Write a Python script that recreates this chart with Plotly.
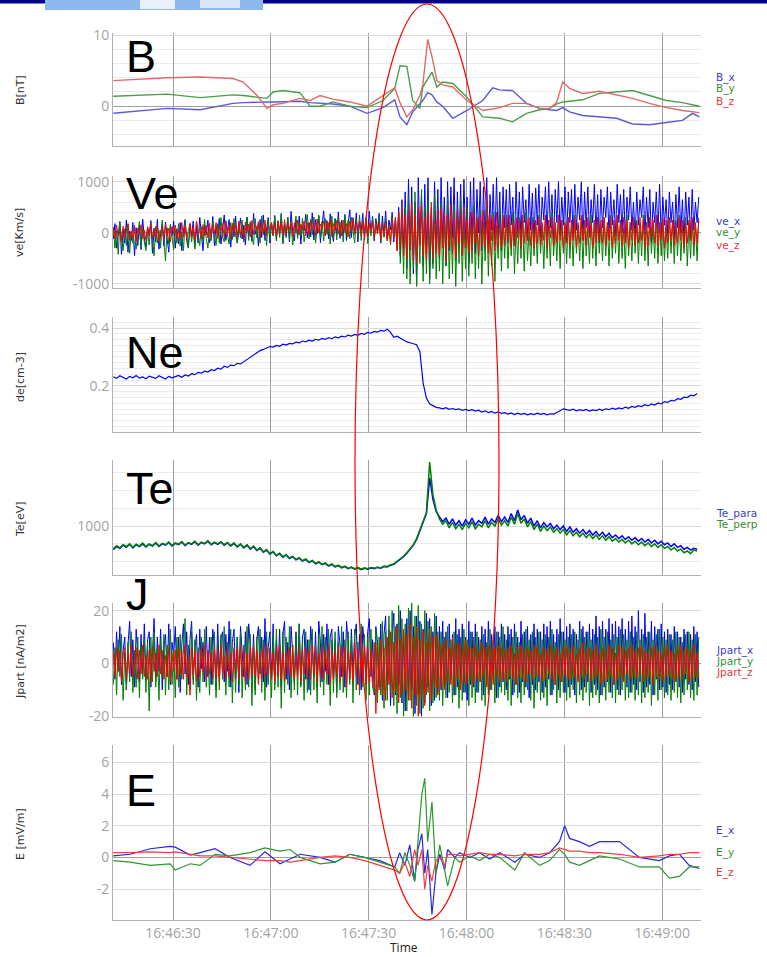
import pandas as pd
import plotly.graph_objects as go
from plotly.subplots import make_subplots

# ---------------- data ----------------
BASE = pd.Timestamp("2015-10-16 16:46:11.7")
X_START = "2015-10-16 16:46:11.6"
X_END = "2015-10-16 16:49:11.9"

# y tick labels (hyphen minus as in the picture)
b_ticks = [0, 10]
ve_ticks = [-1000, 0, 1000]
de_ticks = [0.2, 0.4]
te_ticks = [1000]
j_ticks = [-20, 0, 20]
e_ticks = [-2, 0, 2, 4, 6]

# Magnetic field B [nT], irregular sample seconds after BASE
b_sec = [0, 16.5, 26.6, 36.7, 39.8, 44.1, 47.1, 49.0, 52.0, 57.2,
         60.3, 63.4, 67.3, 72.5, 77.8, 82.7, 86.3, 87.9, 90.0, 91.8,
         94.0, 94.9, 96.4, 97.7, 99.2, 101.0, 104.1, 108.4, 113.3, 116.3,
         118.5, 122.4, 126.7, 130.7, 133.8, 135.9, 137.8, 139.9, 143.9, 149.1,
         154.3, 159.2, 164.4, 169.6, 174.5, 177.6, 179.7]
b_x = [-1.0, -0.3, -0.5, 0.4, 0.5, 0.6, 0.6, 0.6, 0.6, 0.7,
       0.5, 0.4, 0.3, 0.0, -1.0, -0.2, 0.9, -1.5, -2.6, -0.8,
       0.4, 0.8, 1.9, 1.6, 0.6, 0.0, -1.7, -0.6, 0.8, 2.6,
       2.3, 2.2, 0.4, -0.3, -0.5, -0.6, -0.2, -0.8, -1.3, -1.5,
       -1.7, -2.5, -2.6, -2.3, -2.0, -1.0, -1.5]
b_y = [1.4, 1.7, 1.2, 1.6, 1.5, 1.3, 1.1, 2.0, 2.2, 1.9,
       0.0, 0.0, 0.6, 0.0, -0.2, 0.8, 2.5, 5.7, 5.6, 0.8,
       -0.3, 2.7, 3.8, 4.8, 2.7, 3.4, 3.2, 1.3, -1.5, -1.6,
       -1.7, -2.2, -1.0, -0.5, -0.3, 0.3, 0.6, 0.7, 0.9, 1.8,
       2.0, 2.2, 1.5, 0.8, 0.5, 0.2, 0.0]
b_z = [3.6, 4.0, 4.1, 3.9, 3.4, 1.5, -0.3, 0.2, 0.4, 1.1,
       0.8, 1.5, 1.0, 0.6, 0.0, 1.5, 2.6, 0.5, -1.5, -0.5,
       1.5, 3.0, 9.4, 7.0, 3.6, 3.0, 2.7, 0.8, -0.6, -0.4,
       -0.2, 0.4, 0.4, -0.3, -0.3, 0.5, 3.4, 2.5, 1.8, 2.1,
       1.6, 1.1, 0.4, -0.2, -0.6, -0.8, -0.9]

# half-second samples (velocity, current) and 1-second samples (density, temperature)
h_sec = [i / 2 for i in range(360)]
n_sec = list(range(180))

ve_x = [
    -120, 180, -300, -50, 220, -420, 60, -200, 250, -380, 30, -150, 200, -450, 100, -250, 150, -330, 270, -100,
    -280, 120, -60, 240, -400, 90, -180, 260, -320, -20, 180, -260, 210, -120, -380, 140, -60, 230, -300, 80,
    -220, 200, -350, 40, 260, -150, -300, 180, -60, 230, -270, 120, -200, 300, -110, -350, 160, -40, 250, -190,
    -100, 320, -250, 150, -60, 280, -220, 90, 350, -150, 20, 260, -280, 140, -80, 330, -200, 60, 290, -120,
    150, -240, 310, -60, 200, -170, 380, -30, 120, -260, 260, -90, 350, -150, 70, 300, -200, 180, -50, 340,
    -130, 230, -40, 380, -210, 160, -90, 300, -180, 420, 20, -160, 250, -70, 330, -220, 140, 40, 360, -100,
    200, -80, 390, -140, 260, -20, 330, -190, 160, 430, -60, 240, -120, 370, 30, -170, 280, -40, 410, -110,
    250, -60, 360, -150, 180, 450, -90, 300, -20, 390, -180, 220, 40, 380, -130, 260, -70, 420, -10, 320,
    -160, 280, 40, 380, -200, 330, -50, 430, -120, 250, 60, 400, -180, 300, -250, 500, -450, 650, -300, 800,
    -700, 1050, -350, 900, -800, 600, -1000, 1080, -200, 750, -650, 950, -400, 1080, -900, 500, -600, 1000, -300, 850,
    -500, 1080, -150, 700, -650, 1000, -350, 900, -100, 1080, -550, 800, -250, 950, -450, 1050, -150, 700, -600, 1000,
    -200, 1080, -400, 850, 0, 1000, -350, 900, -150, 1080, -300, 750, 50, 950, -250, 1080, -100, 800, -350, 900,
    100, 850, -200, 950, 150, 700, -250, 1000, 0, 800, -150, 900, 200, 650, -100, 950, 50, 780, -200, 880,
    150, 950, -100, 700, 250, 900, -50, 1000, 100, 750, -200, 850, 200, 1000, -50, 700, 150, 900, -150, 800,
    200, 850, -100, 950, 50, 700, 250, 1000, -150, 800, 100, 900, -50, 650, 200, 950, 0, 750, -200, 850,
    100, 700, 300, 900, -100, 800, 150, 650, -50, 950, 200, 750, 0, 850, -150, 700, 250, 900, 50, 600,
    -100, 800, 150, 650, 300, 900, -50, 700, 100, 850, -200, 600, 200, 800, 0, 950, -100, 700, 150, 650,
    -50, 800, 200, 600, -150, 750, 100, 900, 0, 650, -200, 800, 150, 700, -100, 850, 50, 600, 200, 700]
ve_y = [
    120, -300, 40, -420, 200, -150, -350, 80, -250, 180, -400, 30, -200, 150, -320, -60, 220, -280, 100, -180,
    -350, 60, -240, 200, -120, -450, 130, -200, 50, -300, 250, -150, -550, 100, -220, 170, -80, -330, 60, -200,
    180, -260, 20, -350, 200, -100, -280, 150, -180, 80, -320, 230, -60, -250, 120, -180, 260, -120, -300, 90,
    -150, 220, -60, -250, 180, -200, 300, -80, -180, 240, -30, -220, 200, -130, 280, -50, -200, 160, -100, 250,
    -180, 100, 300, -150, 220, -60, -230, 280, -100, 180, -200, 330, -40, 150, -250, 260, -120, 200, -60, 310,
    -160, 240, -90, 350, -200, 120, -30, 300, -140, 220, -240, 80, 330, -110, 200, -60, 280, -180, 150, 360,
    -120, 260, -40, 310, -200, 150, 350, -90, 220, -160, 280, -30, 200, -220, 330, -80, 240, -140, 300, -20,
    190, -180, 340, -60, 250, -120, 300, 30, -200, 270, -90, 350, -150, 220, -40, 310, -210, 180, -60, 290,
    -130, 240, -20, 320, -180, 200, -90, 280, -160, 150, -240, 300, -100, 250, -350, 400, -600, 300, -800, 500,
    -900, 700, -1000, 400, -700, 800, -1050, 300, -600, 850, -950, 500, -800, 650, -1000, 300, -700, 750, -900, 450,
    -750, 600, -1000, 350, -650, 700, -900, 250, -800, 550, -1050, 400, -600, 650, -950, 300, -700, 500, -850, 200,
    -600, 550, -900, 300, -700, 450, -1000, 200, -550, 600, -850, 250, -650, 400, -950, 150, -500, 450, -750, 300,
    -500, 350, -700, 200, -450, 400, -800, 150, -600, 300, -500, 250, -750, 400, -550, 100, -650, 300, -450, 200,
    -600, 350, -400, 150, -700, 300, -500, 200, -650, 400, -450, 100, -550, 350, -700, 250, -400, 150, -600, 300,
    -500, 200, -650, 350, -400, 150, -550, 300, -700, 250, -450, 100, -600, 350, -500, 200, -650, 300, -400, 150,
    -550, 300, -450, 200, -650, 350, -500, 150, -400, 300, -600, 250, -500, 100, -700, 350, -450, 200, -550, 300,
    -400, 250, -600, 150, -450, 350, -550, 200, -650, 300, -400, 150, -500, 350, -600, 200, -450, 250, -550, 100,
    -500, 300, -400, 200, -600, 250, -450, 350, -550, 150, -400, 300, -650, 200, -500, 250, -450, 150, -550, 300]
ve_z = [
    80, -120, 150, -60, 20, -180, 130, -90, 60, 170, -140, 40, -100, 120, -170, 90, -30, 160, -110, 50,
    -150, 110, -40, 180, -120, 70, -80, 140, -160, 30, 100, -130, 170, -60, 90, -180, 120, -20, 150, -100,
    60, -140, 200, -70, 130, -110, 40, 180, -90, 110, -150, 220, -30, 90, -120, 160, -60, 140, -100, 190,
    -80, 150, -20, 200, -110, 120, 30, 180, -90, 220, -40, 140, -120, 190, 10, 160, -70, 230, -50, 130,
    -100, 210, 20, 170, -80, 240, -30, 150, 60, 220, -90, 180, -10, 250, -60, 130, 80, 200, -40, 170,
    -70, 230, 30, 180, -50, 260, -20, 160, 70, 220, -80, 190, 10, 250, -40, 170, 60, 230, -60, 200,
    -30, 240, 50, 190, -60, 270, 0, 170, 80, 230, -50, 200, 30, 260, -70, 180, 40, 240, -20, 210,
    -60, 250, 20, 180, -80, 230, 40, 270, -30, 190, 60, 240, -50, 210, 10, 260, -70, 200, 30, 230,
    -90, 180, -20, 220, -130, 160, -60, 200, -150, 120, -200, 250, -100, 300, -350, 400, -250, 500, -450, 350,
    -500, 450, -300, 600, -550, 350, -600, 500, -250, 550, -450, 300, -550, 400, -350, 600, -500, 250, -400, 450,
    -450, 500, -300, 400, -550, 350, -250, 550, -400, 300, -500, 450, -200, 350, -450, 500, -300, 250, -400, 400,
    -350, 400, -200, 300, -450, 350, -250, 450, -300, 250, -400, 350, -150, 300, -350, 400, -250, 200, -300, 350,
    -250, 300, -150, 350, -300, 200, -250, 300, -100, 250, -300, 350, -200, 250, -150, 300, -250, 200, -300, 250,
    -200, 300, -250, 200, -150, 350, -300, 250, -100, 300, -250, 200, -200, 350, -150, 250, -300, 200, -200, 300,
    -250, 250, -150, 300, -300, 200, -200, 350, -150, 250, -250, 300, -100, 200, -300, 250, -200, 300, -150, 250,
    -200, 300, -250, 200, -150, 300, -300, 250, -200, 350, -150, 200, -250, 300, -200, 250, -300, 200, -150, 300,
    -250, 200, -200, 300, -150, 250, -300, 200, -250, 300, -100, 250, -200, 350, -250, 200, -150, 300, -300, 250,
    -200, 300, -150, 250, -250, 200, -200, 300, -150, 250, -300, 200, -200, 250, -150, 300, -250, 200, -200, 250]

de = [0.232, 0.226, 0.235, 0.229, 0.224, 0.233, 0.228, 0.236, 0.227, 0.231, 0.225, 0.234, 0.229, 0.226, 0.235, 0.230, 0.224, 0.233, 0.228, 0.232,
      0.236, 0.230, 0.238, 0.234, 0.242, 0.239, 0.247, 0.244, 0.251, 0.248, 0.256, 0.253, 0.261, 0.258, 0.268, 0.264, 0.272, 0.270, 0.278, 0.276,
      0.284, 0.290, 0.298, 0.305, 0.316, 0.322, 0.326, 0.331, 0.336, 0.334, 0.340, 0.337, 0.344, 0.341, 0.347, 0.345, 0.351, 0.349, 0.355, 0.352,
      0.358, 0.355, 0.361, 0.358, 0.364, 0.361, 0.367, 0.363, 0.369, 0.366, 0.372, 0.369, 0.375, 0.372, 0.378, 0.375, 0.381, 0.378, 0.385, 0.382,
      0.388, 0.386, 0.392, 0.389, 0.396, 0.385, 0.368, 0.372, 0.366, 0.358, 0.352, 0.349, 0.346, 0.342, 0.318, 0.210, 0.158, 0.138, 0.132, 0.126,
      0.124, 0.121, 0.125, 0.119, 0.122, 0.118, 0.121, 0.116, 0.119, 0.115, 0.118, 0.113, 0.116, 0.110, 0.114, 0.108, 0.112, 0.106, 0.110, 0.105,
      0.108, 0.103, 0.107, 0.101, 0.106, 0.102, 0.105, 0.100, 0.104, 0.101, 0.106, 0.102, 0.105, 0.100, 0.104, 0.103, 0.108, 0.114, 0.121, 0.118,
      0.116, 0.120, 0.114, 0.118, 0.115, 0.119, 0.113, 0.117, 0.115, 0.120, 0.116, 0.121, 0.118, 0.123, 0.119, 0.124, 0.121, 0.127, 0.123, 0.129,
      0.126, 0.132, 0.129, 0.135, 0.131, 0.138, 0.134, 0.141, 0.138, 0.146, 0.143, 0.150, 0.148, 0.156, 0.154, 0.161, 0.160, 0.168, 0.166, 0.174]

te_para = [735, 770, 750, 785, 760, 795, 755, 790, 770, 800, 765, 795, 775, 810, 770, 800, 785, 815, 775, 805,
           790, 820, 780, 810, 795, 825, 785, 815, 800, 830, 790, 815, 795, 820, 785, 810, 775, 805, 765, 795,
           755, 785, 740, 770, 725, 750, 705, 730, 685, 710, 665, 690, 650, 675, 635, 655, 620, 640, 605, 625,
           590, 610, 575, 595, 565, 580, 550, 570, 540, 555, 530, 545, 520, 535, 515, 530, 510, 525, 515, 530,
           520, 535, 525, 545, 540, 560, 570, 595, 625, 655, 695, 735, 785, 850, 940, 1040, 1140, 1540, 1300, 1160,
           1100, 1050, 1090, 1020, 1080, 1010, 1060, 1000, 1070, 1020, 1090, 1010, 1060, 1030, 1100, 1020, 1080, 1040, 1120, 1050,
           1100, 1040, 1140, 1060, 1180, 1070, 1120, 1030, 1090, 1000, 1060, 980, 1040, 990, 1030, 970, 1010, 960, 1000, 940,
           990, 930, 970, 920, 960, 910, 950, 900, 940, 890, 930, 880, 920, 870, 900, 860, 890, 850, 880, 840,
           870, 830, 860, 820, 850, 810, 840, 800, 830, 790, 810, 770, 800, 760, 780, 740, 760, 730, 750, 740]
te_perp = [745, 780, 755, 790, 770, 800, 760, 795, 775, 810, 770, 800, 780, 815, 775, 805, 790, 820, 780, 810,
           795, 825, 785, 815, 800, 830, 790, 820, 805, 835, 795, 820, 800, 825, 790, 815, 780, 810, 770, 800,
           760, 790, 745, 775, 730, 755, 710, 735, 690, 715, 670, 695, 655, 680, 640, 660, 625, 645, 610, 630,
           595, 615, 580, 600, 570, 585, 555, 575, 545, 560, 535, 550, 525, 540, 520, 535, 515, 530, 520, 535,
           525, 540, 530, 550, 545, 565, 575, 600, 630, 660, 700, 740, 790, 860, 950, 1050, 1150, 1720, 1350, 1180,
           1080, 1020, 1060, 980, 1040, 970, 1020, 960, 1030, 980, 1050, 970, 1020, 990, 1060, 980, 1040, 1000, 1080, 1010,
           1060, 1000, 1100, 1020, 1140, 1030, 1080, 990, 1050, 960, 1020, 940, 1000, 950, 990, 930, 970, 920, 960, 900,
           950, 890, 930, 880, 920, 870, 910, 860, 900, 850, 890, 840, 880, 830, 860, 820, 850, 810, 840, 800,
           830, 790, 820, 780, 810, 770, 800, 760, 790, 750, 770, 730, 760, 720, 740, 700, 720, 690, 730, 720]

jpart_x = [
    8, -6, 12, -3, 14, -8, 5, 10, -10, 7, 16, -5, 9, -9, 13, 2, -7, 11, -4, 15,
    -6, 9, 12, -9, 4, 17, -7, 10, -3, 13, -10, 6, 11, -5, 15, -8, 8, 3, 14, -6,
    10, -11, 7, 15, -4, 12, -8, 9, 16, -6, 5, 11, -9, 13, -2, 8, -7, 14, -5, 10,
    -8, 13, 6, -10, 15, -4, 9, 12, -7, 11, -3, 16, -9, 8, 13, -6, 10, -11, 14, 5,
    -5, 12, -8, 15, 7, -6, 11, -10, 9, 14, -4, 10, -7, 17, -9, 6, 12, -5, 15, -8,
    9, -3, 13, -9, 11, 16, -6, 8, -10, 14, 5, -7, 12, -4, 15, -8, 10, 13, -6, 9,
    -10, 14, 6, -5, 12, -9, 16, 8, -7, 11, -3, 15, -8, 10, 13, -6, 9, -11, 14, 7,
    -5, 12, -9, 16, 8, -6, 13, -4, 10, 15, -8, 11, -10, 14, 6, -7, 12, 17, -5, 9,
    -12, 14, 8, -9, 15, -14, 11, 18, -10, 13, -16, 10, 19, -12, 15, -8, 20, -15, 12, -18,
    17, -13, 20, -10, 14, -19, 18, -12, 16, -20, 13, -15, 19, -9, 17, -16, 12, -14, 18, -11,
    14, -10, 16, -8, 12, -13, 15, -6, 11, -12, 17, -9, 13, -7, 15, -11, 10, -14, 16, -8,
    12, -9, 15, -11, 10, -7, 14, -12, 13, -8, 16, -10, 11, -6, 14, -13, 12, -9, 15, -7,
    11, -10, 14, -6, 13, -12, 15, -8, 10, -11, 16, -7, 12, -9, 14, -13, 11, -8, 15, -10,
    13, -7, 12, -11, 15, -9, 14, -6, 16, -12, 11, -8, 13, -10, 17, -7, 12, -11, 14, -9,
    15, -8, 13, -12, 11, -6, 16, -10, 14, -9, 12, -7, 15, -11, 13, -8, 18, -10, 14, -12,
    16, -9, 13, -7, 17, -11, 15, -8, 16, -10, 14, -12, 17, -6, 13, -9, 16, -11, 18, -8,
    14, -10, 20, -7, 13, -11, 19, -9, 12, -8, 16, -12, 14, -6, 13, -10, 15, -9, 12, -11,
    13, -8, 11, -10, 14, -7, 12, -9, 10, -11, 13, -6, 12, -8, 11, -10, 14, -7, 12, -9]
jpart_y = [
    -8, 6, -12, 9, -5, 11, -14, 4, -10, 8, -7, 12, -11, 5, -9, 10, -13, 7, -6, 9,
    -11, 8, -18, 10, -7, 12, -9, 6, -14, 9, -5, 11, -12, 7, -10, 13, -8, 5, -13, 10,
    -9, 11, -6, 8, 17, -12, 7, -10, 12, -8, 9, -14, 6, -11, 10, -7, 13, -9, 5, -12,
    10, -8, 12, -13, 7, -10, 11, -6, 14, -12, 8, -9, 13, -15, 6, -11, 10, -8, 12, -13,
    7, -10, 14, -9, 11, -16, 8, -12, 10, -7, 13, -11, 9, -14, 12, -8, 6, -13, 11, -10,
    13, -9, 8, -17, 12, -11, 10, -8, 14, -13, 7, -10, 11, -12, 15, -9, 8, -14, 12, -11,
    9, -12, 13, -10, 7, -15, 11, -9, 14, -12, 10, -8, 13, -16, 9, -11, 12, -13, 8, -10,
    14, -11, 9, -13, 12, -8, 10, -15, 13, -10, 8, -12, 15, -9, 11, -14, 10, -12, 13, -9,
    -11, 13, -15, 10, -12, 16, -17, 12, -14, 18, -11, 20, -16, 14, -19, 22, -13, 17, -20, 15,
    -18, 21, -14, 23, -20, 18, -16, 22, -19, 15, -17, 20, -12, 16, -18, 14, -15, 19, -13, 12,
    -14, 12, -16, 10, -13, 14, -11, 9, -15, 12, -12, 11, -17, 10, -14, 13, -11, 9, -16, 12,
    -13, 10, -15, 12, -11, 9, -14, 11, -16, 8, -12, 13, -10, 9, -15, 12, -13, 10, -11, 14,
    -12, 9, -14, 11, -16, 10, -11, 12, -13, 8, -15, 11, -12, 13, -10, 9, -14, 12, -17, 10,
    -11, 12, -14, 9, -13, 11, -16, 10, -12, 13, -10, 8, -15, 11, -13, 12, -11, 9, -14, 10,
    -13, 11, -10, 12, -15, 9, -12, 13, -14, 10, -11, 12, -16, 9, -13, 11, -12, 10, -15, 13,
    -12, 10, -14, 12, -11, 9, -13, 11, -15, 10, -12, 13, -10, 11, -14, 9, -13, 12, -11, 10,
    -14, 12, -12, 9, -15, 11, -13, 10, -11, 12, -16, 9, -12, 11, -14, 13, -10, 10, -13, 9,
    -12, 11, -14, 9, -11, 12, -13, 10, -15, 8, -12, 11, -10, 12, -13, 9, -14, 11, -12, 10]
jpart_z = [
    4, -5, 6, -3, 5, -7, 3, 6, -6, 4, -4, 7, -5, 2, 6, -6, 5, -4, 7, -5,
    3, -6, 5, -7, 6, -3, 4, -5, 7, -4, 5, -6, 3, -5, 6, -7, 4, -3, 5, -6,
    6, -4, 5, -6, 7, -5, 3, -12, 6, -4, 5, -7, 4, -5, 6, -3, 7, -6, 5, -4,
    4, -6, 6, -5, 5, -7, 7, -4, 3, -6, 6, -5, 4, -7, 5, -3, 6, -6, 7, -5,
    5, -7, 4, -6, 6, -4, 7, -5, 5, -8, 4, -6, 6, -5, 7, -4, 5, -6, 4, -7,
    6, -5, 7, -6, 4, -7, 5, -4, 6, -5, 7, -6, 3, -5, 6, -7, 5, -4, 6, -6,
    5, -6, 7, -4, 6, -7, 4, -5, 6, -6, 5, -4, 7, -8, 5, -6, 4, -5, 6, -7,
    7, -5, 6, -9, 5, -6, 4, -7, 8, -5, 6, -10, 5, -6, 7, -8, 6, -7, 5, -9,
    8, -19, 7, -10, 9, -12, 6, -14, 10, -8, 12, -13, 8, -11, 14, -15, 9, -12, 13, -10,
    11, -14, 15, -17, 10, -12, 14, -20, 9, -13, 12, -16, 8, -11, 13, -14, 10, -9, 11, -12,
    8, -9, 7, -10, 9, -7, 6, -8, 10, -9, 7, -6, 8, -10, 6, -7, 9, -8, 7, -6,
    6, -8, 7, -6, 5, -7, 8, -5, 6, -9, 7, -6, 5, -8, 6, -5, 7, -7, 6, -6,
    5, -7, 6, -5, 7, -6, 4, -8, 6, -5, 7, -6, 5, -7, 6, -4, 5, -6, 7, -5,
    6, -5, 4, -7, 6, -6, 5, -4, 7, -6, 5, -8, 6, -5, 4, -7, 6, -5, 7, -6,
    5, -6, 7, -5, 4, -7, 6, -5, 8, -6, 5, -4, 6, -7, 5, -6, 7, -5, 4, -8,
    6, -7, 5, -6, 7, -5, 6, -8, 4, -6, 7, -5, 6, -7, 5, -4, 6, -6, 7, -5,
    5, -6, 6, -4, 7, -7, 5, -6, 4, -5, 6, -8, 7, -5, 5, -6, 4, -7, 6, -5,
    7, -5, 5, -6, 4, -7, 6, -5, 7, -6, 5, -4, 6, -7, 5, -6, 7, -5, 4, -6]

# Electric field E [mV/m], irregular sample seconds
e_sec = [0, 5.2, 11.3, 17.4, 19.0, 23.6, 26.6, 31.2, 35.8, 41.9,
         46.5, 51.1, 54.2, 57.3, 63.4, 68.0, 72.5, 77.1, 81.7, 86.3,
         87.8, 89.4, 90.9, 92.4, 93.4, 94.6, 95.5, 96.4, 97.7, 98.9,
         100.1, 101.6, 102.5, 104.7, 106.2, 109.3, 112.3, 115.4, 118.5, 123.1,
         126.1, 130.7, 133.8, 136.8, 138.4, 139.9, 142.9, 146.0, 149.1, 155.2,
         161.3, 167.4, 170.5, 173.6, 176.6, 179.7]
e_x = [0.1, 0.2, 0.55, 0.7, 0.65, 0.15, 0.3, 0.55, 0.0, -0.5,
       0.35, -0.4, -0.1, 0.2, 0.0, -0.3, 0.2, 0.0, -0.2, -0.6,
       0.3, -0.5, 0.8, -1.5, 0.5, 1.5, -1.0, 0.5, -3.6, -1.0,
       0.2, -0.8, 0.5, 0.0, 0.3, 0.0, 0.3, -0.1, 0.3, -0.3,
       0.2, 0.0, 0.3, 1.0, 2.0, 1.2, 1.0, 0.7, 1.0, 1.0,
       0.0, -0.2, 0.1, 0.2, -0.5, -0.7]
e_y = [-0.2, -0.3, -0.5, -0.4, -0.8, -0.4, -0.5, 0.2, 0.1, 0.3,
       0.6, 0.4, 0.5, 0.0, -0.4, -0.3, 0.2, 0.0, -0.3, -0.6,
       -1.0, 0.3, -0.5, -1.5, 1.0, 4.0, 5.0, 1.0, 3.5, -1.0,
       0.8, -1.0, -1.8, 0.0, -0.3, 0.1, -0.2, 0.2, 0.0, -0.8,
       0.3, -0.5, -0.2, 0.5, 0.2, -0.3, -0.5, -0.2, 0.1, -0.1,
       -0.6, -0.6, -1.3, -1.2, -0.6, -0.6]
e_z = [0.3, 0.3, 0.35, 0.3, 0.35, 0.2, 0.1, 0.1, 0.0, -0.1,
       -0.2, -0.2, -0.3, -0.2, 0.0, 0.1, 0.0, -0.2, -0.5, -0.8,
       -1.0, -0.3, -1.2, 0.5, -0.5, 0.5, -2.0, -0.5, -1.5, -0.2,
       0.0, -0.5, 0.2, 0.2, 0.1, 0.2, 0.3, 0.2, 0.2, 0.1,
       0.2, 0.2, 0.3, 0.6, 0.5, 0.4, 0.4, 0.3, 0.3, 0.2,
       0.0, 0.1, 0.2, 0.2, 0.3, 0.3]

for arr in (ve_x, ve_y, ve_z, jpart_x, jpart_y, jpart_z):
    assert len(arr) == len(h_sec), len(arr)
for arr in (de, te_para, te_perp):
    assert len(arr) == len(n_sec), len(arr)
for arr in (b_x, b_y, b_z):
    assert len(arr) == len(b_sec), len(arr)
for arr in (e_x, e_y, e_z):
    assert len(arr) == len(e_sec), len(arr)

# ---------------- figure ----------------
W, H = 767, 957
L, R = 113, 701


def px_x(px):
    return (px - L) / (R - L)


def px_y(py):
    return 1 - py / H


def tt(sec):
    return BASE + pd.to_timedelta(sec, unit="s")


fig = make_subplots(rows=6, cols=1, shared_xaxes=True)

BLUE, GREEN, RED = "#0000ff", "#008000", "#ff0000"


def add(row, sec, vals, color, width):
    fig.add_trace(go.Scatter(x=tt(sec), y=vals, mode="lines",
                             line=dict(color=color, width=width),
                             showlegend=False, hoverinfo="skip"), row=row, col=1)


add(1, b_sec, b_x, "#5a5ad8", 1.4)
add(1, b_sec, b_y, "#4a9e4a", 1.4)
add(1, b_sec, b_z, "#e06a6a", 1.4)
add(2, h_sec, ve_x, BLUE, 1)
add(2, h_sec, ve_y, GREEN, 1)
add(2, h_sec, ve_z, RED, 1)
add(3, n_sec, de, BLUE, 1.2)
add(4, n_sec, te_para, BLUE, 1.5)
add(4, n_sec, te_perp, GREEN, 1.5)
add(5, h_sec, jpart_x, BLUE, 1)
add(5, h_sec, jpart_y, GREEN, 1)
add(5, h_sec, jpart_z, RED, 1)
add(6, e_sec, e_x, "#2626e6", 1.2)
add(6, e_sec, e_y, "#2e962e", 1.2)
add(6, e_sec, e_z, "#ee4040", 1.2)


def fmt_tick(v):
    return ("%g" % v).replace("\u2212", "-")


panels = [  # (top px, bottom px, range, tick values, minor dtick)
    (33, 146, [-5.6, 10.3], b_ticks, 2),
    (175.6, 288, [-1080, 1120], ve_ticks, 200),
    (316.7, 431.7, [0.042, 0.439], de_ticks, 0.02),
    (460, 575, [450, 1742], te_ticks, 200),
    (603, 717, [-20.3, 22.9], j_ticks, 10),
    (745, 920, [-3.95, 7.1], e_ticks, None),
]

TICKFONT = dict(family="Open Sans", size=14, color="#a3a3a3")
for i, (top, bot, rng, tv, mdt) in enumerate(panels, start=1):
    yk = "yaxis" if i == 1 else f"yaxis{i}"
    ycfg = dict(domain=[px_y(bot), px_y(top)], range=rng,
                tickmode="array", tickvals=tv, ticktext=[fmt_tick(v) for v in tv],
                showline=True, linecolor="#b0b0b0", linewidth=1,
                showgrid=True, gridcolor="#d9d9d9", gridwidth=1,
                zeroline=True, zerolinecolor="#a0a0a0", zerolinewidth=1,
                ticks="", tickfont=TICKFONT, fixedrange=True, automargin=False)
    if mdt:
        ycfg["minor"] = dict(tickmode="linear", dtick=mdt, tick0=0, showgrid=True,
                             gridcolor="#ebebeb", gridwidth=1, ticks="")
    fig.layout[yk].update(ycfg)

fig.update_xaxes(type="date", range=[X_START, X_END], dtick=30000,
                 tick0="2015-10-16 16:46:00", tickformat="%H:%M:%S",
                 showgrid=True, gridcolor="#9d9d9d", gridwidth=1,
                 showline=True, linecolor="#b0b0b0", linewidth=1,
                 ticks="", tickfont=TICKFONT, zeroline=False, automargin=False)
fig.update_xaxes(showticklabels=False)
fig.update_xaxes(showticklabels=True, row=6, col=1)

ann = []
# panel letters
for txt, cy in [("B", 57), ("Ve", 194), ("Ne", 352), ("Te", 488), ("J", 594), ("E", 790)]:
    ann.append(dict(text=txt, x=px_x(124), y=px_y(cy), xref="paper", yref="paper",
                    xanchor="left", yanchor="middle", showarrow=False,
                    font=dict(family="Liberation Sans", size=45, color="#000000")))
# y-axis titles
for txt, cy in [("B[nT]", 90), ("ve[Km/s]", 233), ("de[cm-3]", 377),
                ("Te[eV]", 519), ("Jpart [nA/m2]", 662), ("E [mV/m]", 834)]:
    ann.append(dict(text=txt, x=px_x(20), y=px_y(cy), xref="paper", yref="paper",
                    xanchor="center", yanchor="middle", textangle=-90, showarrow=False,
                    font=dict(family="DejaVu Sans", size=11, color="#333333")))
# legends as coloured text
LB, LG, LR = "#3c3cd0", "#3a8c3a", "#e03c3c"
legend_items = [("B_x", 77, LB), ("B_y", 89, LG), ("B_z", 101, LR),
                ("ve_x", 221, LB), ("ve_y", 233, LG), ("ve_z", 245, LR),
                ("Te_para", 513, LB), ("Te_perp", 524, LG),
                ("Jpart_x", 650, LB), ("Jpart_y", 661, LG), ("Jpart_z", 672, LR),
                ("E_x", 830, LB), ("E_y", 852, LG), ("E_z", 872, LR)]
for txt, cy, col in legend_items:
    ann.append(dict(text=txt, x=px_x(714), y=px_y(cy), xref="paper", yref="paper",
                    xanchor="left", yanchor="middle", showarrow=False,
                    font=dict(family="DejaVu Sans", size=10.5, color=col)))
ann.append(dict(text="Time", x=px_x(404), y=px_y(947), xref="paper", yref="paper",
                xanchor="center", yanchor="middle", showarrow=False,
                font=dict(family="Open Sans", size=12, color="#222222")))

shapes = [
    dict(type="rect", xref="paper", yref="paper", x0=px_x(0), x1=px_x(767),
         y0=px_y(3.5), y1=px_y(0), fillcolor="#00008b", line=dict(width=0), layer="above"),
    dict(type="rect", xref="paper", yref="paper", x0=px_x(45), x1=px_x(263),
         y0=px_y(10), y1=px_y(0), fillcolor="#8cb8ec", line=dict(width=0), layer="above"),
    dict(type="rect", xref="paper", yref="paper", x0=px_x(140), x1=px_x(175),
         y0=px_y(9), y1=px_y(0), fillcolor="#e8f0fa", line=dict(width=0), layer="above"),
    dict(type="rect", xref="paper", yref="paper", x0=px_x(200), x1=px_x(240),
         y0=px_y(8), y1=px_y(0), fillcolor="#d8e6f8", line=dict(width=0), layer="above"),
    dict(type="circle", xref="paper", yref="paper", x0=px_x(355), x1=px_x(499),
         y0=px_y(920), y1=px_y(4), line=dict(color="#ff0000", width=1.2), layer="above"),
]

fig.update_layout(width=W, height=H,
                  margin=dict(l=L, r=W - R, t=0, b=0, pad=0, autoexpand=False),
                  paper_bgcolor="white", plot_bgcolor="white",
                  showlegend=False, annotations=ann, shapes=shapes)

fig.write_html("out.html", config={"displayModeBar": False},
               post_script="document.body.style.margin='0';document.body.style.overflow='hidden';")
